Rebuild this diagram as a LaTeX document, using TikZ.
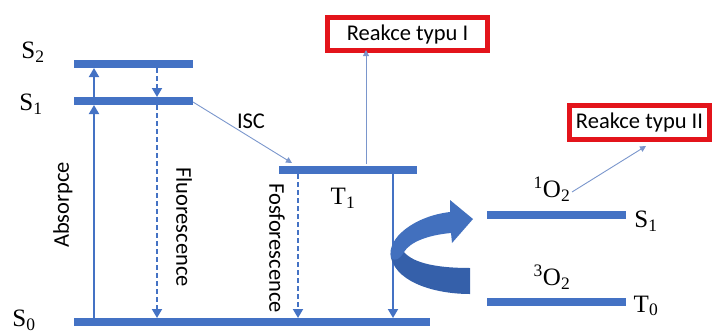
\documentclass[tikz,border=0pt]{standalone}
\usepackage{fontspec}
\setmainfont{Carlito}
\newfontfamily\serifl{Liberation Serif}
\usetikzlibrary{arrows.meta}
\definecolor{lvl}{HTML}{4472C4}
\definecolor{thinc}{HTML}{7A96CC}
\definecolor{rbox}{HTML}{E3141B}
\definecolor{carrow}{HTML}{4270BE}
\definecolor{carrowd}{HTML}{3560AA}
\begin{document}
\begin{tikzpicture}[x=1pt,y=-1pt,
  level/.style={line width=8pt, lvl},
  trans/.style={line width=1.8pt, lvl, -{Triangle[length=9pt,width=10pt]}},
  transd/.style={trans, dash pattern=on 5pt off 3pt},
  thinarr/.style={line width=0.9pt, thinc, -{Triangle[length=6pt,width=6pt]}},
  rbx/.style={draw=rbox, line width=5pt, inner sep=0pt, font=\fontsize{22.5}{26}\selectfont},
  sans/.style={font=\fontsize{22.5}{26}\selectfont, inner sep=0pt},
  ser/.style={font=\serifl\fontsize{25}{28}\selectfont, inner sep=0pt}]
\useasboundingbox (0,0) rectangle (713,333);

% level coordinates
\coordinate (s2l) at (74,64);  \coordinate (s2r) at (193,64);
\coordinate (s1l) at (74,101); \coordinate (s1r) at (193,101);
\coordinate (s0l) at (74,322); \coordinate (s0r) at (430,322);
\coordinate (t1l) at (279,170); \coordinate (t1r) at (417,170);
\coordinate (o1l) at (487,215); \coordinate (o1r) at (626,215);
\coordinate (o3l) at (487,302); \coordinate (o3r) at (626,302);

\draw[level] (s2l) -- (s2r);
\draw[level] (s1l) -- (s1r);
\draw[level] (s0l) -- (s0r);
\draw[level] (t1l) -- (t1r);
\draw[level] (o1l) -- (o1r);
\draw[level] (o3l) -- (o3r);

% transition end points
\coordinate (a0) at (94,318);  \coordinate (a1) at (94,105);
\coordinate (a1t) at (94,97);  \coordinate (a2) at (94,68);
\coordinate (f2) at (157,68);  \coordinate (f1t) at (157,97);
\coordinate (f1) at (157,105); \coordinate (f0) at (157,318);
\coordinate (p1) at (298,174); \coordinate (p0) at (298,318);
\coordinate (n1) at (393,174); \coordinate (n0) at (393,318);
\coordinate (iscs) at (193,102); \coordinate (isce) at (292,163);
\coordinate (r1s) at (366,164);
\coordinate (r2s) at (572,192);

\draw[trans] (a0) -- (a1);
\draw[trans] (a1t) -- (a2);
\draw[transd] (f2) -- (f1t);
\draw[transd] (f1) -- (f0);
\draw[transd] (p1) -- (p0);
\draw[trans] (n1) -- (n0);

% boxes
\node[rbx, minimum width=160pt, minimum height=33pt] (r1) at (407.5,34) {Reakce typu I};
\node[rbx, minimum width=140pt, minimum height=34pt] (r2) at (639.5,122.5) {Reakce typu II};

\draw[thinarr] (iscs) -- (isce);
\draw[thinarr] (r1s) -- ([yshift=3pt]r1.south -| r1s);
\coordinate (r2e) at (646,146);
\draw[thinarr] (r2s) -- (r2e);

% labels
\node[ser] (ls2) at (33,52) {S\textsubscript{2}};
\node[ser] (ls1) at (31,104) {S\textsubscript{1}};
\node[ser] (ls0) at (24,320) {S\textsubscript{0}};
\node[sans, rotate=90] (labs) at (63,205) {Absorpce};
\node[sans, rotate=-90] (lflu) at (184,227) {Fluorescence};
\node[sans, rotate=-90] (lfos) at (277,248) {Fosforescence};
\node[sans] (lisc) at (251,121) {ISC};
\node[ser] (lt1) at (343,198) {T\textsubscript{1}};
\node[ser] (lo1) at (552,189) {\textsuperscript{1}O\textsubscript{2}};
\node[ser] (lo3) at (552,277) {\textsuperscript{3}O\textsubscript{2}};
\node[ser] (lS1) at (646,221) {S\textsubscript{1}};
\node[ser] (lT0) at (646,306) {T\textsubscript{0}};

% curved arrow
\fill[carrowd] (470,294) .. controls (438,294) and (398,284) .. (391,258)
  .. controls (396,251) and (401,249) .. (404,252)
  .. controls (414,264) and (440,268) .. (470,268) -- cycle;
\fill[carrow] (450,212) .. controls (415,216) and (386,238) .. (391,258)
  .. controls (395,262) and (400,259) .. (404,252)
  .. controls (410,242) and (428,235) .. (451,233)
  -- (452,243) -- (473,219) -- (450,200) -- cycle;
\end{tikzpicture}
\end{document}
